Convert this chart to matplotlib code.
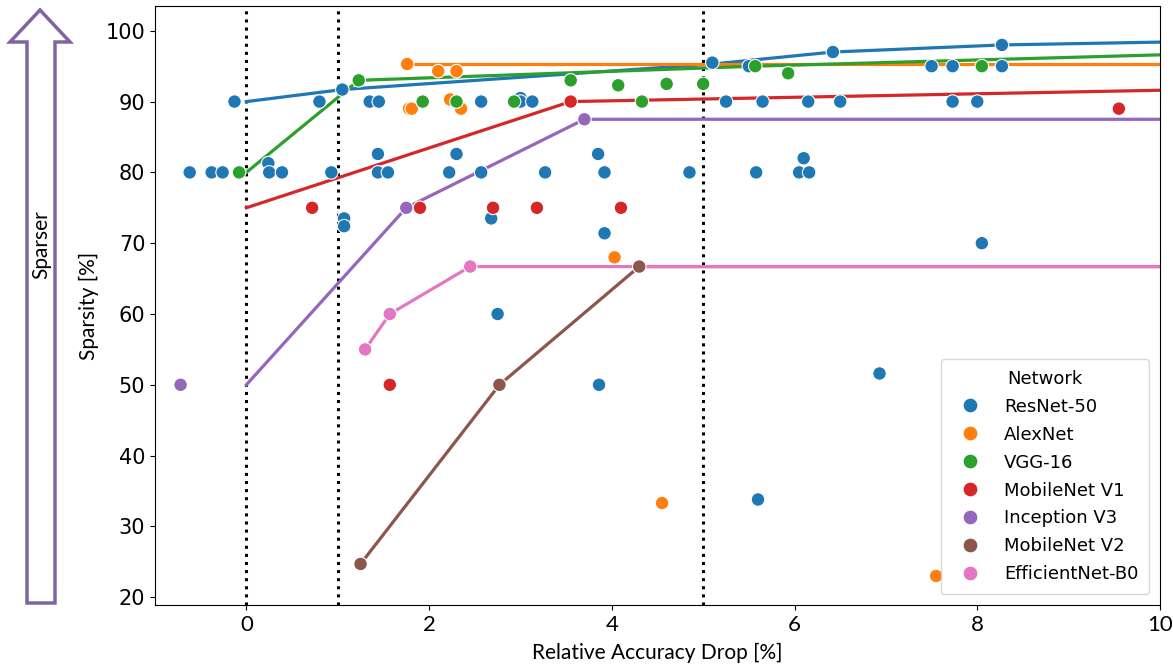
import matplotlib
matplotlib.use("Agg")
import matplotlib.pyplot as plt
from matplotlib.patches import Polygon
import pandas as pd
import seaborn as sns

networks = ["ResNet-50", "AlexNet", "VGG-16", "MobileNet V1",
            "Inception V3", "MobileNet V2", "EfficientNet-B0"]
colors = ["#1f77b4", "#ff7f0e", "#2ca02c", "#d62728",
          "#9467bd", "#8c564b", "#e377c2"]

# scatter points: accuracy drop [%], sparsity [%]
resnet_x = [-0.62, -0.38, -0.26, -0.13, 0.24, 0.25, 0.39, 0.80, 0.93, 1.05,
            1.07, 1.07, 1.35, 1.45, 1.44, 1.44, 1.55, 2.22, 2.30, 2.57,
            2.57, 2.68, 2.75, 3.00, 3.00, 3.13, 3.27, 3.85, 3.92, 3.92,
            3.86, 4.85, 5.10, 5.25, 5.50, 5.58, 5.60, 5.65, 6.05, 6.10,
            6.16, 6.15, 6.42, 6.50, 6.93, 7.50, 7.73, 7.73, 8.00, 8.05,
            8.27, 8.27]
resnet_y = [80, 80, 80, 90, 81.3, 80, 80, 90, 80, 91.7,
            73.5, 72.4, 90, 90, 82.6, 80, 80, 80, 82.6, 90,
            80, 73.5, 60, 90.5, 90, 90, 80, 82.6, 80, 71.4,
            50, 80, 95.5, 90, 95, 80, 33.8, 90, 80, 82,
            80, 90, 97, 90, 51.6, 95, 95, 90, 90, 70,
            98, 95]
alexnet_x = [1.76, 1.78, 1.81, 2.10, 2.23, 2.30, 2.35, 4.03, 4.55, 7.55]
alexnet_y = [95.3, 89, 89, 94.3, 90.3, 94.3, 89, 68, 33.3, 23]
vgg_x = [-0.08, 1.23, 1.93, 2.30, 2.93, 3.55, 4.07, 4.33, 4.60, 5.00,
         5.57, 5.93, 8.05]
vgg_y = [80, 93, 90, 90, 90, 93, 92.3, 90, 92.5, 92.5,
         95, 94, 95]
mbv1_x = [0.72, 1.90, 2.70, 3.18, 4.10, 1.57, 3.55, 9.55]
mbv1_y = [75, 75, 75, 75, 75, 50, 90, 89]
incep_x = [-0.72, 1.75, 3.70]
incep_y = [50, 75, 87.5]
mbv2_x = [1.25, 2.77, 4.30]
mbv2_y = [24.7, 50, 66.7]
effnet_x = [1.30, 1.57, 2.45]
effnet_y = [55, 60, 66.7]

# frontier lines
resnet_line_x = [0, 1.05, 5.10, 6.42, 8.27, 10]
resnet_line_y = [90, 91.7, 95.3, 97, 98, 98.4]
alexnet_line_x = [1.76, 10]
alexnet_line_y = [95.3, 95.3]
vgg_line_x = [0, 1.23, 5.57, 10]
vgg_line_y = [80, 93, 95, 96.6]
mbv1_line_x = [0, 3.55, 10]
mbv1_line_y = [75, 90, 91.6]
incep_line_x = [0, 1.75, 3.70, 10]
incep_line_y = [50, 75, 87.5, 87.5]
mbv2_line_x = [1.25, 2.77, 4.30, 10]
mbv2_line_y = [24.7, 50, 66.7, 66.7]
effnet_line_x = [1.30, 1.57, 2.45, 10]
effnet_line_y = [55, 60, 66.7, 66.7]

thresholds = [0, 1, 5]

xs = [resnet_x, alexnet_x, vgg_x, mbv1_x, incep_x, mbv2_x, effnet_x]
ys = [resnet_y, alexnet_y, vgg_y, mbv1_y, incep_y, mbv2_y, effnet_y]
lines = [(resnet_line_x, resnet_line_y), (alexnet_line_x, alexnet_line_y),
         (vgg_line_x, vgg_line_y), (mbv1_line_x, mbv1_line_y),
         (incep_line_x, incep_line_y), (mbv2_line_x, mbv2_line_y),
         (effnet_line_x, effnet_line_y)]

rows = []
for name, x, y in zip(networks, xs, ys):
    for a, b in zip(x, y):
        rows.append({"Network": name, "drop": a, "sparsity": b})
df = pd.DataFrame(rows)

W, H = 1173, 667
fig = plt.figure(figsize=(W / 100, H / 100), dpi=100)
ax = fig.add_axes([155 / W, 1 - 605 / H, 1005 / W, 599 / H])

for t in thresholds:
    ax.axvline(t, color="black", linestyle=":", linewidth=2.2, zorder=1)

for (lx, ly), c in zip(lines, colors):
    ax.plot(lx, ly, color=c, linewidth=2.3, zorder=2)

sns.scatterplot(data=df, x="drop", y="sparsity", hue="Network",
                hue_order=networks, palette=colors, s=95,
                edgecolor="white", linewidth=0.8, ax=ax, zorder=3)

ax.set_xlim(-1, 10)
ax.set_ylim(18.9, 103.5)
ax.set_xticks([0, 2, 4, 6, 8, 10])
ax.set_yticks(range(20, 101, 10))
for lab in ax.get_xticklabels():
    lab.set_fontfamily("Lato")
    lab.set_fontsize(16)
for lab in ax.get_yticklabels():
    lab.set_fontsize(15)
ax.set_xlabel("Relative Accuracy Drop [%]", fontsize=15, family="Lato",
              labelpad=6)
ax.set_ylabel("Sparsity [%]", fontsize=15, family="Lato", labelpad=5)

leg = ax.legend(title="Network", loc="lower right", fontsize=13,
                title_fontsize=13, markerscale=1.1, labelspacing=0.55,
                borderpad=0.6, handletextpad=0.9, borderaxespad=0.6,
                prop={"family": "DejaVu Sans", "size": 13})
leg.get_title().set_family("DejaVu Sans")

# "Sparser" arrow on the left
px = [(27, 603), (55, 603), (55, 42), (70, 42), (40, 10), (10, 42), (27, 42)]
verts = [(a / W, 1 - b / H) for a, b in px]
fig.patches.append(Polygon(verts, closed=True, fill=False,
                           edgecolor="#8064a2", linewidth=2.5,
                           transform=fig.transFigure))
fig.text(41 / W, 1 - 245 / H, "Sparser", rotation=90, fontsize=15,
         family="Lato", ha="center", va="center")

fig.savefig("out.png", dpi=100)
